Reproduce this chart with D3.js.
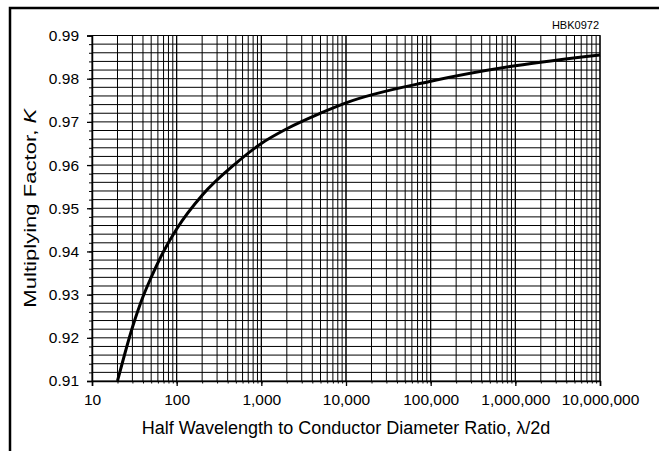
<!DOCTYPE html>
<html>
<head>
<meta charset="utf-8">
<script src="https://cdn.jsdelivr.net/npm/d3@7"></script>
<style>
  html, body { margin: 0; padding: 0; background: #fff; overflow: hidden; }
  svg { display: block; font-family: "Liberation Sans", Arial, sans-serif; }
</style>
</head>
<body>
<svg id="chart" width="659" height="451"></svg>
<script>
// Half-wavelength to conductor diameter ratio (λ/2d) and the multiplying factor K
const ratio   = [20, 30, 40, 50, 70, 100, 200, 500, 1000, 2000, 5000, 10000, 100000, 1000000, 10000000];
const factorK = [0.910, 0.9224, 0.9295, 0.9340, 0.9400, 0.9452, 0.9530, 0.9604, 0.9650, 0.9684, 0.9720, 0.9744, 0.9794, 0.9830, 0.9855];

const xTicks = [10, 100, 1000, 10000, 100000, 1000000, 10000000];
const yTicks = [0.91, 0.92, 0.93, 0.94, 0.95, 0.96, 0.97, 0.98, 0.99];

const svg = d3.select("#chart");
const plotL = 92, plotR = 600, plotT = 35.5, plotB = 381;

const x = d3.scaleLog().domain([10, 10000000]).range([plotL, plotR]);
const y = d3.scaleLinear().domain([0.91, 0.99]).range([plotB, plotT]);

// outer frame
svg.append("rect")
  .attr("x", 10).attr("y", 8).attr("width", 700).attr("height", 500)
  .attr("fill", "none").attr("stroke", "#000").attr("stroke-width", 2.5);

// minor values: 1..10 per decade on x, every 0.002 on y
const xMinor = [];
for (let e = 1; e < 7; e++) for (let m = 1; m <= 10; m++) xMinor.push(m * Math.pow(10, e));
const yMinor = d3.range(0, 41).map(i => 0.91 + i * 0.002);

const grid = svg.append("g").attr("stroke", "#000").attr("stroke-width", 1);
grid.selectAll("line.v").data(xMinor).join("line")
  .attr("x1", d => x(d)).attr("x2", d => x(d))
  .attr("y1", plotT).attr("y2", plotB);
grid.selectAll("line.h").data(yMinor).join("line")
  .attr("x1", plotL).attr("x2", plotR)
  .attr("y1", d => y(d)).attr("y2", d => y(d));

// minor tick marks
svg.append("g").attr("transform", `translate(0,${plotB})`)
  .call(d3.axisBottom(x).tickValues(xMinor).tickSize(2.5).tickFormat(""))
  .call(g => g.select(".domain").remove());
svg.append("g").attr("transform", `translate(${plotL},0)`)
  .call(d3.axisLeft(y).tickValues(yMinor).tickSize(3).tickFormat(""))
  .call(g => g.select(".domain").remove());

// major axes
const xAxis = svg.append("g").attr("transform", `translate(0,${plotB})`)
  .call(d3.axisBottom(x).tickValues(xTicks).tickSize(5).tickPadding(8).tickFormat(d3.format(",")));
const yAxis = svg.append("g").attr("transform", `translate(${plotL},0)`)
  .call(d3.axisLeft(y).tickValues(yTicks).tickSize(5).tickPadding(8).tickFormat(d3.format(".2f")));
[xAxis, yAxis].forEach(a => {
  a.selectAll("text").attr("font-size", 15.5).attr("fill", "#000")
    .attr("font-family", "'Liberation Sans', Arial, sans-serif");
  a.selectAll("line").attr("stroke", "#000").attr("stroke-width", 1.3);
  a.select(".domain").attr("stroke", "#000").attr("stroke-width", 1.5);
});

// plot frame top and right
svg.append("path")
  .attr("d", `M${plotL},${plotT}H${plotR}V${plotB}`)
  .attr("fill", "none").attr("stroke", "#000").attr("stroke-width", 1.2);

// curve
const line = d3.line()
  .x((d, i) => x(ratio[i]))
  .y(d => y(d))
  .curve(d3.curveMonotoneX);
svg.append("path")
  .datum(factorK)
  .attr("d", line)
  .attr("fill", "none").attr("stroke", "#000").attr("stroke-width", 3);

// titles
svg.append("text")
  .attr("x", (plotL + plotR) / 2).attr("y", 434)
  .attr("text-anchor", "middle").attr("font-size", 18)
  .text("Half Wavelength to Conductor Diameter Ratio, λ/2d");

const yt = svg.append("text")
  .attr("transform", `translate(36,${(plotT + plotB) / 2}) rotate(-90) scale(1.3,1)`)
  .attr("text-anchor", "middle").attr("font-size", 17);
yt.append("tspan").text("Multiplying Factor, ");
yt.append("tspan").attr("font-style", "italic").text("K");

svg.append("text")
  .attr("x", 599).attr("y", 29)
  .attr("text-anchor", "end").attr("font-size", 11)
  .text("HBK0972");
</script>
</body>
</html>
